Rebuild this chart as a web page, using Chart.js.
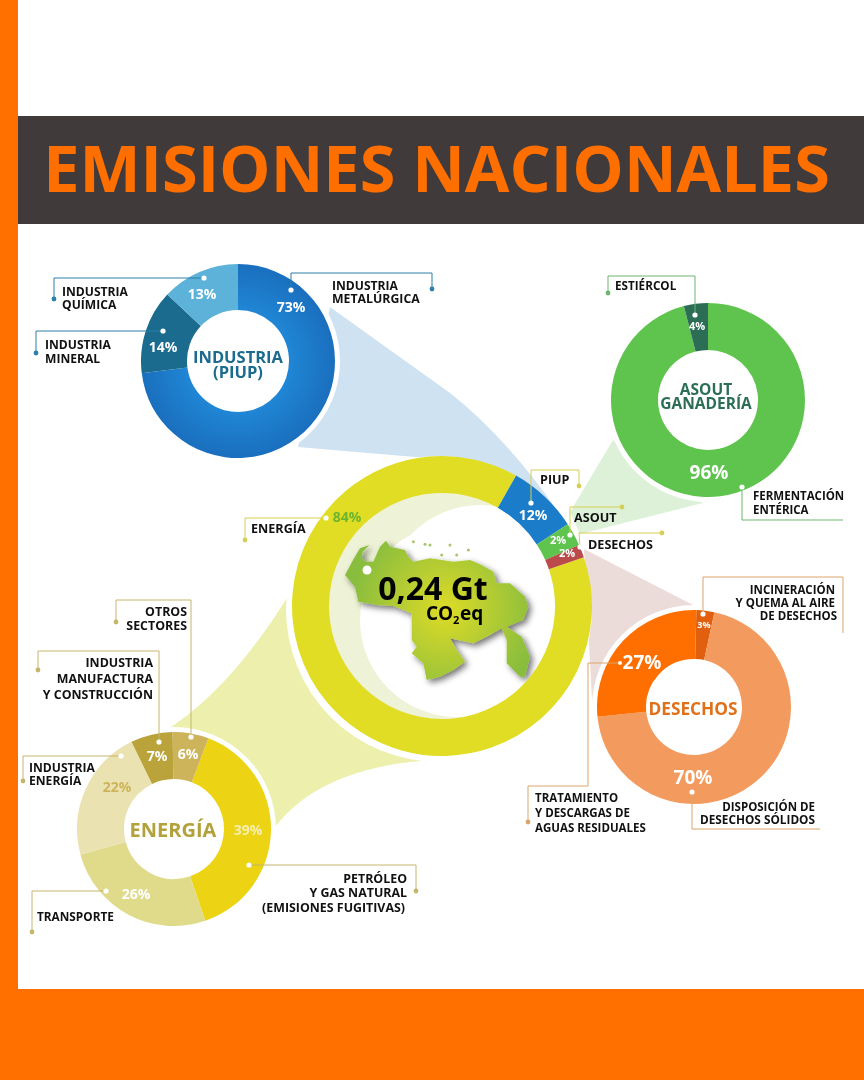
<!DOCTYPE html>
<html>
<head>
<meta charset="utf-8">
<title>Emisiones nacionales</title>
<script src="https://cdn.jsdelivr.net/npm/chart.js@4"></script>
<style>
html, body { margin: 0; padding: 0; background: #fff; }
#page { position: relative; width: 864px; height: 1080px; overflow: hidden; font-family: "Open Sans", sans-serif; }
#page svg { position: absolute; left: 0; top: 0; }
#back { z-index: 0; }
#front { z-index: 2; }
#page canvas { position: absolute; z-index: 1; }
</style>
</head>
<body>
<div id="page">
<svg id="back" width="864" height="1080"></svg>
<svg id="front" width="864" height="1080"></svg>
</div>
<script>
// anillo central: los arcos dibujados no siguen los % impresos, se leen del dibujo
const mainCategories = ['Energía', 'PIUP', 'ASOUT', 'Desechos'];
const mainPrinted = [84, 12, 2, 2];
const mainArcs = [88.5, 7.6, 2.5, 1.4];

const piupCategories = ['Industria metalúrgica', 'Industria mineral', 'Industria química'];
const piupValues = [73, 14, 13];

const asoutCategories = ['Fermentación entérica', 'Estiércol'];
const asoutValues = [96, 4];

const desechosCategories = ['Incineración y quema al aire de desechos', 'Disposición de desechos sólidos', 'Tratamiento y descargas de aguas residuales'];
const desechosValues = [3, 70, 27];

const energiaCategories = ['Petróleo y gas natural (emisiones fugitivas)', 'Transporte', 'Industria energía', 'Industria manufactura y construcción', 'Otros sectores'];
const energiaValues = [39, 26, 22, 7, 6];

const NS = 'http://www.w3.org/2000/svg';
const back = document.getElementById('back');
const front = document.getElementById('front');
const page = document.getElementById('page');

function el(parent, name, attrs, content) {
  const e = document.createElementNS(NS, name);
  for (const k in attrs) e.setAttribute(k, attrs[k]);
  if (content !== undefined) e.textContent = content;
  parent.appendChild(e);
  return e;
}

function text(x, y, str, size, color, anchor, weight) {
  return el(front, 'text', {
    x: x, y: y, fill: color, 'font-size': size, 'font-weight': weight || 700,
    'font-family': 'Open Sans', 'text-anchor': anchor || 'start'
  }, str);
}

// linea guia: punto blanco dentro del anillo, quiebres y punto de color al final
function leader(points, color, endDot, startDot) {
  el(front, 'polyline', { points: points.map(p => p.join(',')).join(' '), fill: 'none', stroke: color, 'stroke-width': 1 });
  const last = points[points.length - 1];
  if (endDot) el(front, 'circle', { cx: last[0], cy: last[1], r: 2.4, fill: color });
  if (startDot !== false) el(front, 'circle', { cx: points[0][0], cy: points[0][1], r: 2.6, fill: '#fff' });
}

function donut(cx, cy, r, hole, rotation, labels, values, colors) {
  const c = document.createElement('canvas');
  c.width = r * 2;
  c.height = r * 2;
  c.style.left = (cx - r) + 'px';
  c.style.top = (cy - r) + 'px';
  c.style.width = (r * 2) + 'px';
  c.style.height = (r * 2) + 'px';
  page.appendChild(c);
  return new Chart(c.getContext('2d'), {
    type: 'doughnut',
    data: { labels: labels, datasets: [{ data: values, backgroundColor: colors, borderWidth: 0 }] },
    options: {
      responsive: false,
      animation: false,
      cutout: hole,
      rotation: rotation,
      layout: { padding: 0 },
      plugins: { legend: { display: false }, tooltip: { enabled: false } }
    }
  });
}

// franjas y titulo
el(back, 'rect', { x: 0, y: 0, width: 18, height: 1080, fill: '#ff7000' });
el(back, 'rect', { x: 0, y: 989, width: 864, height: 91, fill: '#ff7000' });
el(back, 'rect', { x: 18, y: 116, width: 846, height: 108, fill: '#413a3a' });
text(436.5, 192, 'EMISIONES NACIONALES', 64.8, '#ff6f00', 'middle');

// conos detras de los anillos
el(back, 'path', { d: 'M330 307 L450 393 Q510 440 568 526 L515 480 L450 460 L298 447 Z', fill: '#cfe2f2' });
el(back, 'path', { d: 'M613 440 L570 512 L580 534 L703 503 Z', fill: '#ddf1d8' });
el(back, 'path', { d: 'M584 549 L695 606 L592 700 Z', fill: '#ecdcd9' });
el(back, 'path', { d: 'M295 585 Q232 690 163 732 L275 827 Q320 768 430 760 Z', fill: '#ecf0ac' });

// halos blancos
[[439, 609, 153], [238, 361, 102], [708, 400, 102], [694, 707, 102], [174, 829, 102]].forEach(h => {
  el(back, 'circle', { cx: h[0], cy: h[1], r: h[2], fill: '#fff' });
});
el(back, 'circle', { cx: 442, cy: 606, r: 114, fill: '#eef2d6' });
el(back, 'circle', { cx: 457, cy: 620, r: 97, fill: '#fff' });
el(back, 'circle', { cx: 480, cy: 600, r: 95, fill: '#fff' });

// mapa de Venezuela
const defs = el(back, 'defs', {});
const grad = el(defs, 'radialGradient', { id: 'mapa', gradientUnits: 'userSpaceOnUse', cx: 445, cy: 610, r: 95 });
el(grad, 'stop', { offset: '0', 'stop-color': '#dedb27' });
el(grad, 'stop', { offset: '1', 'stop-color': '#88bd3e' });
const blur = el(defs, 'filter', { id: 'sombra', x: '-20%', y: '-20%', width: '140%', height: '140%' });
el(blur, 'feDropShadow', { dx: 3, dy: 3, stdDeviation: 3, 'flood-color': '#000', 'flood-opacity': 0.55 });
const mapOutline = [[195,375],[222,325],[240,295],[268,285],[248,305],[245,325],[258,335],[280,335],[300,290],[318,272],[330,290],[375,300],[385,320],[400,335],[450,325],[520,335],[570,330],[605,345],[640,365],[650,400],[690,400],[735,440],[745,470],[730,510],[680,530],[725,560],[750,620],[735,680],[720,680],[680,640],[680,570],[665,535],[620,560],[580,580],[510,565],[530,600],[555,635],[520,660],[480,680],[440,690],[430,640],[395,610],[410,590],[395,570],[395,490],[340,468],[290,465],[235,455],[225,410]];
el(back, 'polygon', {
  points: mapOutline.map(p => (280 + p[0] / 3).toFixed(1) + ',' + (450 + p[1] / 3).toFixed(1)).join(' '),
  fill: 'url(#mapa)', filter: 'url(#sombra)'
});
el(back, 'circle', { cx: 367, cy: 570, r: 4.5, fill: '#fff' });
[[400,275],[435,283],[450,285],[485,315],[510,285],[530,315],[565,300]].forEach(p => {
  el(back, 'circle', { cx: 280 + p[0] / 3, cy: 450 + p[1] / 3, r: 1.5, fill: '#a9c56a' });
});

// anillos
const piupBlue = document.createElement('canvas').getContext('2d').createRadialGradient(97, 97, 45, 97, 97, 97);
piupBlue.addColorStop(0, '#2089d8');
piupBlue.addColorStop(1, '#1a6fbe');
donut(442, 606, 150, 113, 71, mainCategories, mainArcs, ['#e1dd24', '#1b7dc9', '#5fc44e', '#bb4b4b']);
donut(238, 361, 97, 51, 0, piupCategories, piupValues, [piupBlue, '#1b6b8f', '#5cb2d9']);
donut(708, 400, 97, 50, 0, asoutCategories, asoutValues, ['#5fc44e', '#2b6e55']);
donut(694, 707, 97, 48, 1.4, desechosCategories, desechosValues, ['#e0600f', '#f39b5e', '#fe6f00']);
donut(174, 829, 97, 50, 20.8, energiaCategories, energiaValues, ['#ecd313', '#e0db8a', '#eae2b0', '#b9a33a', '#cdb45b']);

// lineas guia
const blueLine = '#2c7fa8', yellowLine = '#d6cf55', oliveLine = '#c4b66b', greenLine = '#6cb56e', orangeLine = '#dca56c';
leader([[204,278],[54,278],[54,299]], blueLine, true);
leader([[163,331],[36,331],[36,353]], blueLine, true);
leader([[291,290],[291,273],[432,273],[432,289]], blueLine, true);
leader([[531,503],[531,470],[579,470],[579,486]], yellowLine, true);
leader([[570,535],[570,507],[622,507]], yellowLine, true);
leader([[580,547],[579,533],[662,533]], yellowLine, true);
leader([[326,518],[245,518],[245,540]], yellowLine, true);
leader([[191,737],[191,600],[116,600],[116,622]], oliveLine, true);
leader([[159,742],[159,651],[38,651],[38,670]], oliveLine, true);
leader([[121,756],[23,756],[23,781]], oliveLine, true);
leader([[106,891],[32,891],[32,932]], oliveLine, true);
leader([[249,865],[416,865],[416,891]], oliveLine, true);
leader([[695,315],[695,276],[608,276],[608,293]], greenLine, true);
leader([[742,487],[742,520],[843,520]], greenLine, false);
leader([[703,614],[703,577],[843,577],[843,633]], orangeLine, false);
leader([[620,663],[588,663],[588,786],[528,786],[528,822]], orangeLine, true, false);
leader([[692,792],[692,829],[820,829]], orangeLine, false);
el(front, 'circle', { cx: 620, cy: 663, r: 2, fill: '#fff' });

// rotulos
const ink = '#111';
const lab = 12.1, labMain = 12.6, labEn = 12.4, labSmall = 11.5;
text(62, 296, 'INDUSTRIA', lab, ink);
text(62, 309, 'QUÍMICA', lab, ink);
text(45, 349, 'INDUSTRIA', lab, ink);
text(45, 363, 'MINERAL', lab, ink);
text(332, 290, 'INDUSTRIA', lab, ink);
text(332, 303, 'METALÚRGICA', 12.3, ink);
text(540, 484, mainCategories[1].toUpperCase(), labMain, ink);
text(574, 522, mainCategories[2].toUpperCase(), labMain, ink);
text(588, 549, mainCategories[3].toUpperCase(), labMain, ink);
text(251, 533, mainCategories[0].toUpperCase(), labMain, ink);
text(187, 616, 'OTROS', labEn, ink, 'end');
text(187, 630, 'SECTORES', labEn, ink, 'end');
text(153, 667, 'INDUSTRIA', labEn, ink, 'end');
text(153, 683, 'MANUFACTURA', labEn, ink, 'end');
text(153, 699, 'Y CONSTRUCCIÓN', labEn, ink, 'end');
text(29, 772, 'INDUSTRIA', lab, ink);
text(29, 785, 'ENERGÍA', lab, ink);
text(37, 921, 'TRANSPORTE', 11.8, ink);
text(407, 883, 'PETRÓLEO', labEn, ink, 'end');
text(407, 897, 'Y GAS NATURAL', labEn, ink, 'end');
text(405, 912, '(EMISIONES FUGITIVAS)', labEn, ink, 'end');
text(615, 290, 'ESTIÉRCOL', 11.7, ink);
text(753, 500, 'FERMENTACIÓN', labSmall, ink);
text(753, 514, 'ENTÉRICA', labSmall, ink);
text(835, 594, 'INCINERACIÓN', labSmall, ink, 'end');
text(835, 607, 'Y QUEMA AL AIRE', labSmall, ink, 'end');
text(837, 620, 'DE DESECHOS', labSmall, ink, 'end');
text(535, 802, 'TRATAMIENTO', labSmall, ink);
text(535, 817, 'Y DESCARGAS DE', labSmall, ink);
text(535, 832, 'AGUAS RESIDUALES', labSmall, ink);
text(815, 811, 'DISPOSICIÓN DE', labSmall, ink, 'end');
text(815, 824, 'DESECHOS SÓLIDOS', 11.8, ink, 'end');

// titulos de cada anillo
text(238, 363, 'INDUSTRIA', 16.5, '#1b6b8f', 'middle');
text(238, 378, '(PIUP)', 16.5, '#1b6b8f', 'middle');
text(706, 395, 'ASOUT', 15.5, '#2b6e55', 'middle');
text(706, 409, 'GANADERÍA', 15.5, '#2b6e55', 'middle');
text(693, 715, 'DESECHOS', 17.3, '#e0701a', 'middle');
text(173, 837, 'ENERGÍA', 20, '#b3a23c', 'middle');
text(433, 600, '0,24 Gt', 32, '#000', 'middle');
text(426, 620, 'CO', 19, '#000');
text(453, 624, '2', 11, '#000');
text(460, 620, 'eq', 19, '#000');

// porcentajes
const pct = v => v + '%';
text(291, 312, pct(piupValues[0]), 14, '#fff', 'middle');
text(163, 352, pct(piupValues[1]), 14, '#fff', 'middle');
text(202, 299, pct(piupValues[2]), 14, '#fff', 'middle');
text(347, 522, pct(mainPrinted[0]), 14, '#6db52f', 'middle');
text(533, 520, pct(mainPrinted[1]), 14, '#fff', 'middle');
text(558, 544, pct(mainPrinted[2]), 11, '#fff', 'middle');
text(567, 557, pct(mainPrinted[3]), 11, '#fff', 'middle');
text(709, 479, pct(asoutValues[0]), 19, '#fff', 'middle');
text(697, 330, pct(asoutValues[1]), 11, '#fff', 'middle');
text(704, 628, pct(desechosValues[0]), 9, '#fff', 'middle');
text(693, 784, pct(desechosValues[1]), 19, '#fff', 'middle');
text(642, 669, pct(desechosValues[2]), 19, '#fff', 'middle');
text(248, 835, pct(energiaValues[0]), 14, '#f5eeb0', 'middle');
text(136, 899, pct(energiaValues[1]), 14, '#fff', 'middle');
text(117, 792, pct(energiaValues[2]), 14, '#cdb45b', 'middle');
text(157, 761, pct(energiaValues[3]), 14, '#fff', 'middle');
text(188, 759, pct(energiaValues[4]), 14, '#fff', 'middle');
</script>
</body>
</html>
